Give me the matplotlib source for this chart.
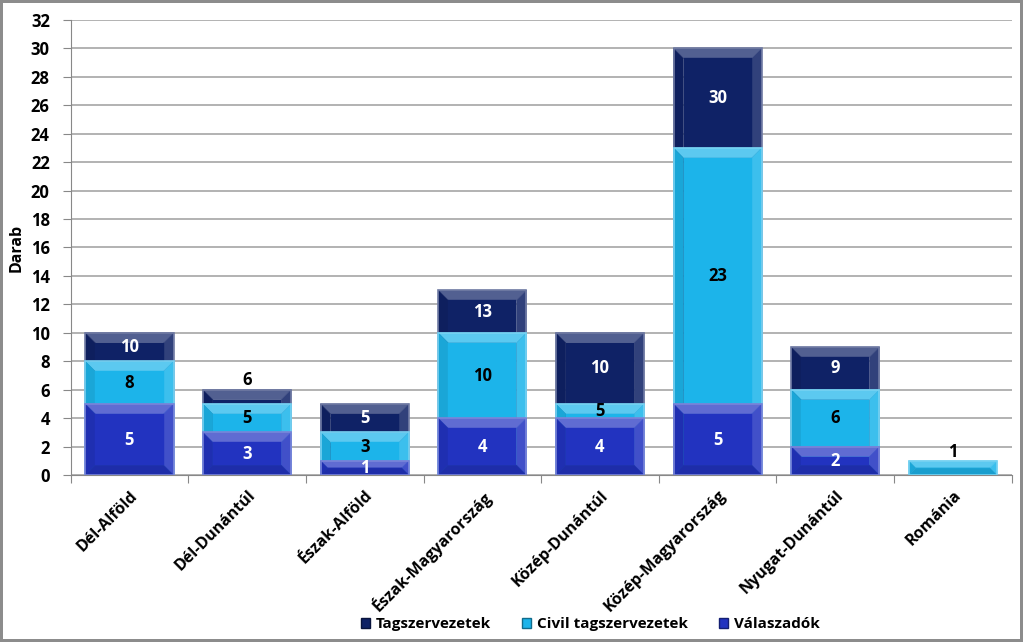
import matplotlib.pyplot as plt
from matplotlib.patches import Polygon
import matplotlib.colors as mcolors
import numpy as np

regions = ["Dél-Alföld", "Dél-Dunántúl", "Észak-Alföld", "Észak-Magyarország",
           "Közép-Dunántúl", "Közép-Magyarország", "Nyugat-Dunántúl", "Románia"]
tagszervezetek = [10, 6, 5, 13, 10, 30, 9, 0]
civil = [8, 5, 3, 10, 5, 23, 6, 1]
valaszadok = [5, 3, 1, 4, 4, 5, 2, 0]

series = [
    ("Tagszervezetek", tagszervezetek, "#0f2266", "white"),
    ("Civil tagszervezetek", civil, "#1cb4ea", "black"),
    ("Válaszadók", valaszadok, "#2233c0", "white"),
]

plt.rcParams['font.family'] = ['Open Sans', 'DejaVu Sans']
plt.rcParams['font.weight'] = 'bold'

fig = plt.figure(figsize=(10.23, 6.42), dpi=100)
fig.patch.set_edgecolor("#8c8c8c")
fig.patch.set_linewidth(4)
ax = fig.add_axes([0.069, 0.26, 0.92, 0.709])

x = np.arange(len(regions))
width = 0.75
ax.set_xlim(-0.5, len(regions) - 0.5)
ax.set_ylim(0, 32)


def shade(color, f):
    r, g, b = mcolors.to_rgb(color)
    if f > 0:
        return (r + (1 - r) * f, g + (1 - g) * f, b + (1 - b) * f)
    return (r * (1 + f), g * (1 + f), b * (1 + f))


def bevel_bar(xc, top, color):
    """draws a bar with a bevel look, bevel size in pixels"""
    if top <= 0:
        return
    to_px = ax.transData
    inv = ax.transData.inverted()
    (x0, y0) = to_px.transform((xc - width / 2, 0))
    (x1, y1) = to_px.transform((xc + width / 2, top))
    b = min(10, (y1 - y0) / 2, (x1 - x0) / 2)
    outer = [(x0, y0), (x1, y0), (x1, y1), (x0, y1)]
    inner = [(x0 + b, y0 + b), (x1 - b, y0 + b), (x1 - b, y1 - b), (x0 + b, y1 - b)]
    faces = [
        ([outer[3], outer[2], inner[2], inner[3]], shade(color, 0.28)),  # top
        ([outer[0], outer[3], inner[3], inner[0]], shade(color, -0.08)),  # left
        ([outer[1], outer[2], inner[2], inner[1]], shade(color, 0.14)),   # right
        ([outer[0], outer[1], inner[1], inner[0]], shade(color, -0.12)),  # bottom
        (inner, color),
    ]
    for pts, c in faces:
        data_pts = inv.transform(pts)
        ax.add_patch(Polygon(data_pts, closed=True, facecolor=c, edgecolor=c,
                             linewidth=0.3, zorder=3))
    ax.add_patch(Polygon(inv.transform(outer), closed=True, fill=False,
                         edgecolor=shade(color, 0.4), linewidth=1.2, zorder=3))


for name, vals, color, tcolor in series:
    for xi, v in zip(x, vals):
        bevel_bar(xi, v, color)

# labels: each value centred in its visible segment
for i in range(len(regions)):
    stack = [(valaszadok[i], series[2]), (civil[i], series[1]), (tagszervezetek[i], series[0])]
    prev = 0
    vis = [(v, s) for v, s in stack if v > 0]
    for k, (v, s) in enumerate(vis):
        seg = v - prev
        top_thin = k == len(vis) - 1 and seg <= 1 and s[0] != "Válaszadók"
        if top_thin:
            ax.text(i, v + 0.65, str(v), ha="center", va="center", fontsize=12,
                    fontweight="bold", color="black", zorder=5)
        else:
            ax.text(i, prev + seg / 2, str(v), ha="center", va="center", fontsize=12,
                    fontweight="bold", color=s[3], zorder=5)
        prev = v

ax.set_yticks(range(0, 33, 2))
ax.set_xticks(np.arange(-0.5, len(regions), 1), minor=False)
ax.set_xticklabels([])
ax.set_xticks(x, minor=True)
ax.set_xticklabels(regions, minor=True, rotation=45, ha="right", rotation_mode="anchor",
                   fontsize=11.5, fontweight="bold")
ax.tick_params(axis="x", which="minor", length=0, pad=9)
ax.tick_params(axis="x", which="major", length=6, color="#888888")
ax.tick_params(axis="y", length=6, color="#888888", labelsize=12, pad=9)
for lab in ax.get_yticklabels():
    lab.set_fontweight("bold")

ax.grid(axis="y", color="#a6a6a6", linewidth=1.2, zorder=0)
ax.set_axisbelow(True)
for side in ["top", "right"]:
    ax.spines[side].set_visible(False)
ax.spines["left"].set_color("#888888")
ax.spines["bottom"].set_color("#888888")
ax.set_ylabel("Darab", fontsize=11.5, fontweight="bold", labelpad=4)

handles = [plt.Rectangle((0, 0), 1, 1, facecolor=c, edgecolor=shade(c, -0.4), linewidth=1)
           for _, _, c, _ in series]
fig.legend(handles, [s[0] for s in series], loc="lower center", bbox_to_anchor=(0.577, -0.005),
           ncol=3, frameon=False, handlelength=0.6, handleheight=0.6, columnspacing=2.0,
           handletextpad=0.4, prop={"weight": "bold", "size": 11})

fig.savefig("out.png", dpi=100)
